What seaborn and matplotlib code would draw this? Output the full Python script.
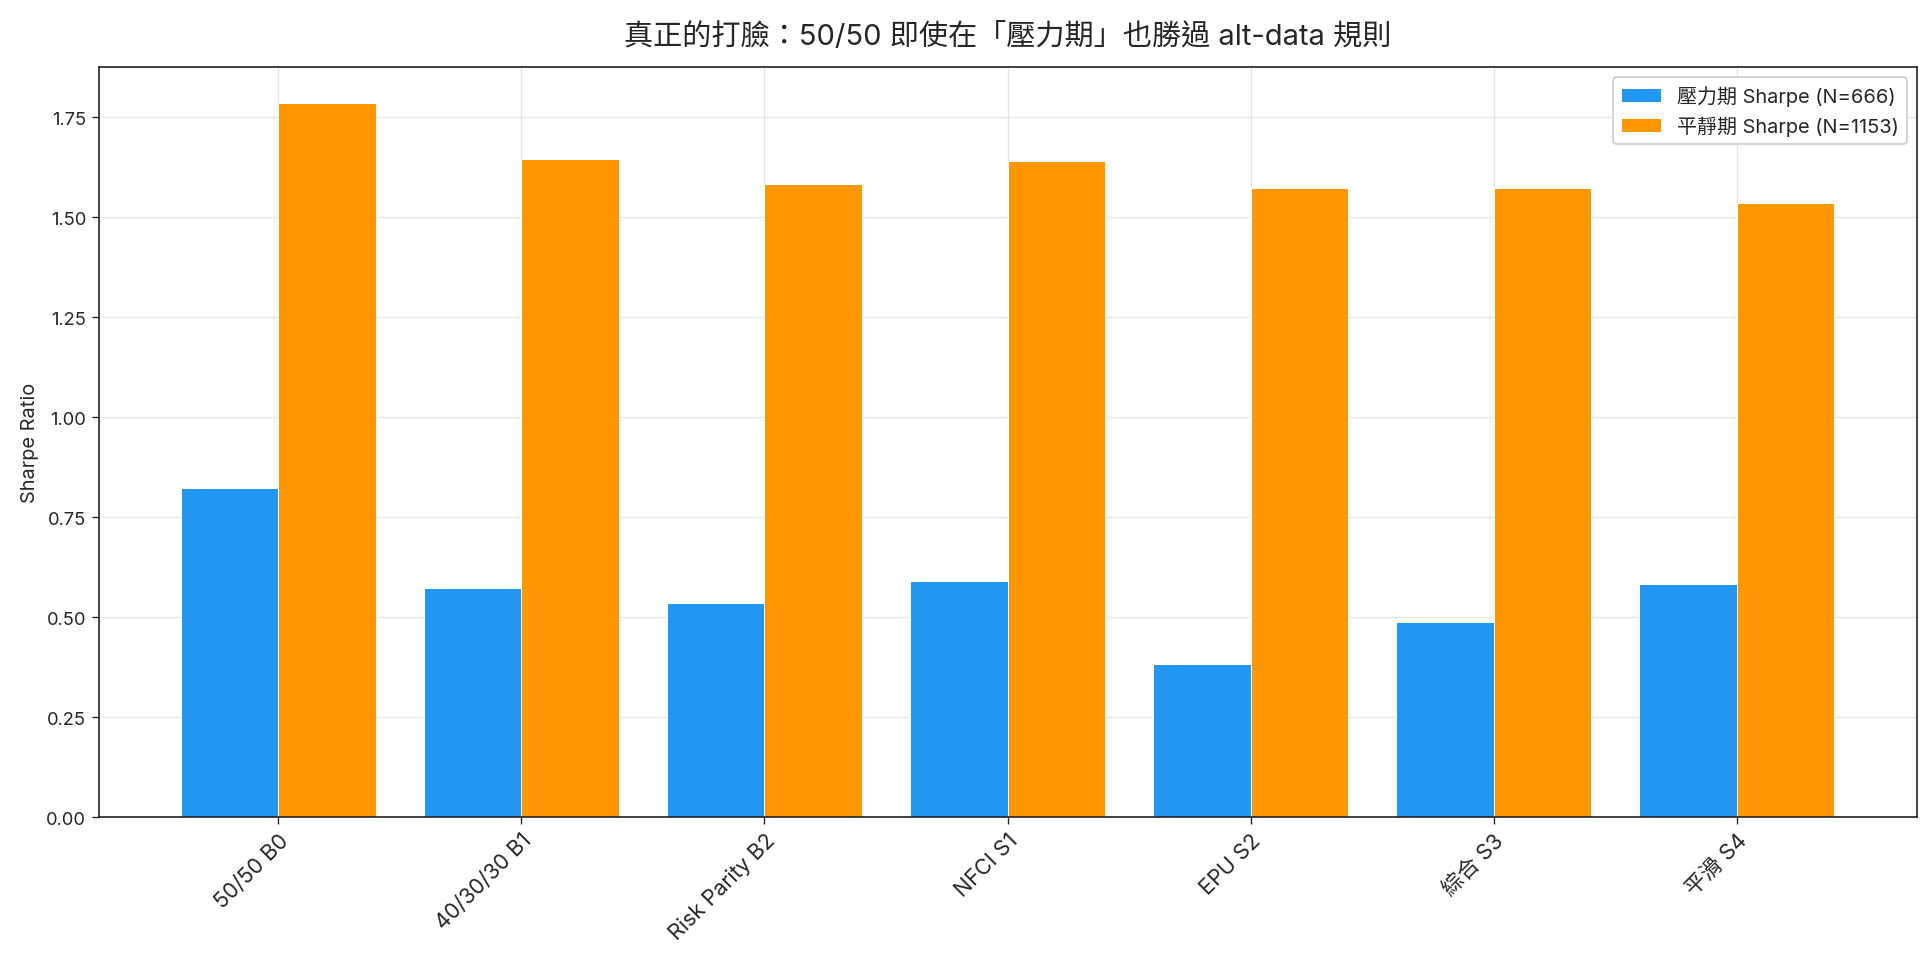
import numpy as np
import pandas as pd
import seaborn as sns
import matplotlib.pyplot as plt

# 策略與各時期 Sharpe
strategies = ['50/50 B0', '40/30/30 B1', 'Risk Parity B2', 'NFCI S1', 'EPU S2', '綜合 S3', '平滑 S4']
stress_sharpe = [0.822, 0.572, 0.535, 0.591, 0.383, 0.489, 0.584]
calm_sharpe = [1.787, 1.645, 1.583, 1.642, 1.574, 1.574, 1.537]
stress_label = '壓力期 Sharpe (N=666)'
calm_label = '平靜期 Sharpe (N=1153)'

df = pd.DataFrame({
    'strategy': strategies * 2,
    'sharpe': stress_sharpe + calm_sharpe,
    'period': [stress_label] * len(strategies) + [calm_label] * len(strategies),
})

sns.set_style('white')
plt.rcParams['font.family'] = ['Inter', 'Noto Sans CJK TC', 'DejaVu Sans']

fig, ax = plt.subplots(figsize=(16.1, 7.983), dpi=120)
sns.barplot(data=df, x='strategy', y='sharpe', hue='period',
            palette=['#2196F3', '#FF9800'], saturation=1, width=0.8,
            edgecolor='white', linewidth=0.6, errorbar=None, ax=ax)

ax.set_xlim(-0.74, 6.74)
ax.set_ylim(0, 1.876)
ax.set_xlabel('')
ax.set_ylabel('Sharpe Ratio', fontsize=12)
ax.set_title('真正的打臉：50/50 即使在「壓力期」也勝過 alt-data 規則', fontsize=17.5, pad=14)
ax.tick_params(axis='y', labelsize=11, length=4, color='#222222', left=True)
ax.tick_params(axis='x', labelsize=13, length=4, color='#222222', bottom=True)
plt.setp(ax.get_xticklabels(), rotation=45, ha='right', rotation_mode='anchor')
ax.grid(True, color='#e5e5e5', linewidth=0.8)
ax.set_axisbelow(True)
for s in ax.spines.values():
    s.set_color('#222222')
    s.set_linewidth(1.0)
ax.legend(loc='upper right', fontsize=12, title=None, framealpha=1, edgecolor='#cccccc')

plt.subplots_adjust(left=0.051, right=0.992, top=0.929, bottom=0.146)
plt.savefig('out.png')
